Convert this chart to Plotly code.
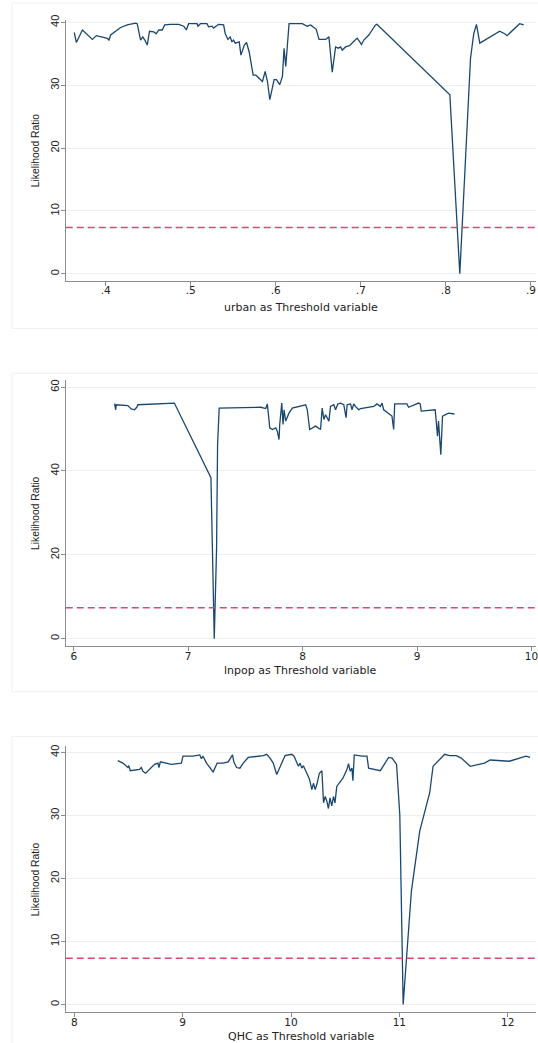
import plotly.graph_objects as go

# ---------------- data ----------------
critical_value = 7.35

urban_x = [0.363, 0.3655, 0.3726, 0.3843, 0.389, 0.396, 0.4019, 0.4038, 0.4058, 0.4175,
           0.4253, 0.435, 0.437, 0.441, 0.4436, 0.446, 0.4488, 0.4515, 0.4565, 0.4593,
           0.4624, 0.4664, 0.4694, 0.476, 0.4858, 0.4917, 0.4948, 0.4975, 0.5074, 0.5085,
           0.5113, 0.519, 0.521, 0.525, 0.5268, 0.5327, 0.5386, 0.5406, 0.5437, 0.5464,
           0.5484, 0.5503, 0.5523, 0.557, 0.559, 0.563, 0.5656, 0.5687, 0.5707, 0.5734,
           0.5766, 0.5804, 0.5843, 0.5875, 0.5902, 0.593, 0.5953, 0.598, 0.6007, 0.6047,
           0.6078, 0.6097, 0.6117, 0.6156, 0.6312, 0.637, 0.641, 0.6476, 0.6508, 0.6586,
           0.6625, 0.6664, 0.6703, 0.6734, 0.6762, 0.6781, 0.6821, 0.6868, 0.6918, 0.6957,
           0.7008, 0.7035, 0.7094, 0.7172, 0.7189, 0.8047, 0.8164, 0.829, 0.8328, 0.836,
           0.8399, 0.8633, 0.8692, 0.872, 0.8868, 0.8915]
urban_lr = [38.4, 36.8, 38.8, 37.3, 37.9, 37.7, 37.45, 37.2, 38.0, 39.2,
            39.6, 39.9, 39.8, 37.2, 37.7, 37.2, 36.4, 38.6, 38.5, 38.2,
            38.8, 38.8, 39.6, 39.7, 39.7, 39.4, 38.8, 39.8, 39.8, 39.4,
            39.8, 39.8, 39.3, 39.4, 39.1, 39.7, 39.6, 38.2, 37.3, 37.7,
            36.9, 37.2, 36.7, 36.9, 34.8, 36.4, 36.8, 35.3, 33.8, 31.6,
            31.6, 31.1, 30.6, 32.2, 30.6, 27.7, 29.0, 30.9, 30.9, 30.1,
            31.4, 35.9, 33.0, 39.8, 39.8, 39.4, 39.6, 38.9, 37.3, 37.3,
            37.7, 32.1, 36.1, 35.9, 36.1, 35.6, 36.1, 36.3, 37.0, 37.5,
            36.5, 37.2, 38.0, 39.6, 39.7, 28.5, 0.0, 34.3, 38.2, 39.7,
            36.7, 38.6, 38.2, 37.9, 39.8, 39.6]

lnpop_x = [6.357, 6.366, 6.372, 6.473, 6.502, 6.531, 6.551, 6.560, 6.879, 7.199,
           7.228, 7.248, 7.257, 7.271, 7.635, 7.678, 7.692, 7.713, 7.736, 7.765,
           7.779, 7.794, 7.800, 7.818, 7.829, 7.838, 7.852, 7.881, 7.910, 7.968,
           8.027, 8.041, 8.062, 8.114, 8.157, 8.171, 8.186, 8.201, 8.215, 8.230,
           8.244, 8.273, 8.288, 8.308, 8.332, 8.360, 8.380, 8.389, 8.419, 8.432,
           8.447, 8.462, 8.491, 8.506, 8.622, 8.650, 8.680, 8.694, 8.709, 8.781,
           8.796, 8.805, 8.912, 8.926, 9.014, 9.028, 9.037, 9.159, 9.179, 9.188,
           9.208, 9.223, 9.275, 9.327]
lnpop_lr = [56.1, 54.6, 55.8, 55.6, 54.8, 54.6, 55.2, 55.8, 56.2, 38.4,
            0.0, 21.4, 46.3, 55.0, 55.2, 54.9, 56.0, 50.3, 49.9, 50.3,
            49.5, 47.5, 51.1, 56.2, 51.1, 54.6, 51.9, 53.8, 55.0, 55.4,
            55.8, 54.6, 49.9, 50.7, 49.9, 55.0, 52.3, 53.4, 52.7, 51.9,
            55.4, 55.8, 54.6, 56.0, 56.2, 55.8, 52.7, 55.8, 56.0, 54.6,
            56.0, 55.4, 54.6, 54.9, 55.4, 56.0, 55.4, 56.2, 54.6, 53.1,
            49.9, 56.0, 56.0, 55.2, 56.2, 56.0, 54.3, 54.6, 48.3, 51.9,
            43.9, 53.1, 53.8, 53.6]

qhc_x = [8.401, 8.448, 8.494, 8.503, 8.516, 8.602, 8.618, 8.633, 8.658, 8.695,
         8.741, 8.772, 8.781, 8.794, 8.849, 8.896, 8.988, 9.003, 9.096, 9.142,
         9.158, 9.173, 9.188, 9.220, 9.281, 9.318, 9.373, 9.420, 9.460, 9.472,
         9.497, 9.528, 9.559, 9.605, 9.683, 9.744, 9.775, 9.806, 9.836, 9.868,
         9.945, 10.007, 10.028, 10.068, 10.084, 10.099, 10.114, 10.146, 10.170, 10.192,
         10.207, 10.223, 10.238, 10.262, 10.285, 10.300, 10.315, 10.330, 10.345, 10.360,
         10.376, 10.392, 10.406, 10.422, 10.454, 10.479, 10.500, 10.516, 10.531, 10.547,
         10.562, 10.571, 10.584, 10.614, 10.655, 10.701, 10.716, 10.824, 10.871, 10.901,
         10.933, 10.974, 11.004, 11.035, 11.111, 11.188, 11.280, 11.311, 11.418, 11.464,
         11.525, 11.571, 11.654, 11.786, 11.838, 12.015, 12.169, 12.206]
qhc_lr = [38.7, 38.3, 37.6, 37.9, 37.1, 37.3, 37.6, 37.0, 36.7, 37.4,
          38.1, 38.3, 37.6, 38.5, 38.3, 38.1, 38.3, 39.4, 39.4, 39.5,
          39.6, 39.0, 39.4, 38.3, 36.9, 38.3, 38.3, 38.5, 39.6, 38.5,
          37.6, 37.5, 38.3, 39.2, 39.4, 39.5, 39.7, 39.1, 38.3, 36.5,
          39.5, 39.7, 39.4, 37.8, 38.3, 37.5, 37.9, 36.7, 35.8, 34.1,
          35.1, 34.1, 34.9, 36.7, 37.1, 32.0, 33.0, 32.3, 31.1, 32.8,
          31.5, 33.0, 32.0, 34.6, 35.4, 35.9, 36.7, 37.3, 38.2, 37.0,
          37.5, 35.5, 39.6, 39.5, 39.4, 39.4, 37.5, 37.1, 38.3, 39.2,
          39.1, 38.1, 30.1, 0.0, 18.0, 27.5, 33.6, 37.8, 39.7, 39.5,
          39.5, 39.1, 37.8, 38.3, 38.8, 38.6, 39.4, 39.2]

urban_ticks = [0.4, 0.5, 0.6, 0.7, 0.8, 0.9]
urban_ticktext = [".4", ".5", ".6", ".7", ".8", ".9"]
lnpop_ticks = [6, 7, 8, 9, 10]
qhc_ticks = [8, 9, 10, 11, 12]
lr_ticks_40 = [0, 10, 20, 30, 40]
lr_ticks_60 = [0, 20, 40, 60]

assert len(urban_x) == len(urban_lr)
assert len(lnpop_x) == len(lnpop_lr)
assert len(qhc_x) == len(qhc_lr)

# ---------------- layout geometry ----------------
W, H = 538, 1043
FONT_X = "DejaVu Sans, Arial, sans-serif"
FONT_Y = "Arial, Liberation Sans, Helvetica, sans-serif"
LINE_COLOR = "#1a476f"
CRIT_COLOR = "#d9486f"
AX_COLOR = "#8c8c8c"
GRID_COLOR = "#eef0f0"
TXT = "#222"


def pp(px_y):
    return 1 - px_y / H


panels = [
    dict(x=urban_x, y=urban_lr, xr=[0.353, 0.906], yr=[-1.1, 40.4],
         top=15, bottom=277, xt=urban_ticks, xtt=urban_ticktext, yt=lr_ticks_40,
         title="urban as Threshold variable", title_y=304),
    dict(x=lnpop_x, y=lnpop_lr, xr=[5.93, 10.04], yr=[-1.73, 61.66],
         top=377, bottom=644, xt=lnpop_ticks, xtt=[str(v) for v in lnpop_ticks], yt=lr_ticks_60,
         title="lnpop as Threshold variable", title_y=669),
    dict(x=qhc_x, y=qhc_lr, xr=[7.921, 12.261], yr=[-1.22, 40.95],
         top=745, bottom=1012, xt=qhc_ticks, xtt=[str(v) for v in qhc_ticks], yt=lr_ticks_40,
         title="QHC as Threshold variable", title_y=1036),
]

fig = go.Figure()
annotations = []
shapes = []
x0_dom = 66 / W

for i, p in enumerate(panels):
    n = "" if i == 0 else str(i + 1)
    fig.add_trace(go.Scatter(x=p["x"], y=p["y"], mode="lines",
                             line=dict(color=LINE_COLOR, width=1.3),
                             xaxis="x" + n, yaxis="y" + n, showlegend=False,
                             hoverinfo="skip"))
    dom_y = [pp(p["bottom"]), pp(p["top"])]
    fig.update_layout(**{
        "xaxis" + n: dict(domain=[x0_dom, 1.0], range=p["xr"], anchor="y" + n,
                          tickvals=p["xt"], ticktext=p["xtt"], ticks="outside",
                          ticklen=4, tickcolor=AX_COLOR, showline=True,
                          linecolor=AX_COLOR, linewidth=1, showgrid=False,
                          zeroline=False, ticklabeloverflow="allow",
                          ticklabelstandoff=-4,
                          tickfont=dict(family=FONT_X, size=10.5, color=TXT)),
        "yaxis" + n: dict(domain=dom_y, range=p["yr"], anchor="x" + n,
                          tickvals=p["yt"], ticks="outside", ticklen=4,
                          tickcolor=AX_COLOR, showline=True, linecolor=AX_COLOR,
                          linewidth=1, showgrid=True, gridcolor=GRID_COLOR,
                          zeroline=False, tickangle=-90, ticklabelstandoff=-3,
                          tickfont=dict(family=FONT_Y, size=11, color=TXT)),
    })
    shapes.append(dict(type="line", xref="x" + n + " domain", yref="y" + n,
                       x0=0, x1=1, y0=critical_value, y1=critical_value,
                       line=dict(color=CRIT_COLOR, width=1.5, dash="7px,4px")))
    annotations.append(dict(text="Likelihood Ratio", textangle=-90, xref="paper", yref="paper",
                            x=35 / W, y=(dom_y[0] + dom_y[1]) / 2, showarrow=False,
                            xanchor="center", yanchor="middle",
                            font=dict(family=FONT_Y, size=10.3, color=TXT)))
    annotations.append(dict(text=p["title"], xref="paper", yref="paper",
                            x=302 / W, y=pp(p["title_y"]), showarrow=False,
                            xanchor="center", yanchor="middle",
                            font=dict(family=FONT_X, size=11, color=TXT)))

# faint outer panel frames
for top, bot in [(-2, 325), (370, 690), (735, 1050)]:
    shapes.append(dict(type="rect", xref="paper", yref="paper", x0=12 / W, x1=1.01,
                       y0=pp(bot), y1=pp(top), line=dict(color="#f0f0f0", width=1),
                       layer="below"))

fig.update_layout(width=W, height=H, margin=dict(l=0, r=0, t=0, b=0),
                  paper_bgcolor="white", plot_bgcolor="white",
                  shapes=shapes, annotations=annotations)

fig.write_html("out.html")
